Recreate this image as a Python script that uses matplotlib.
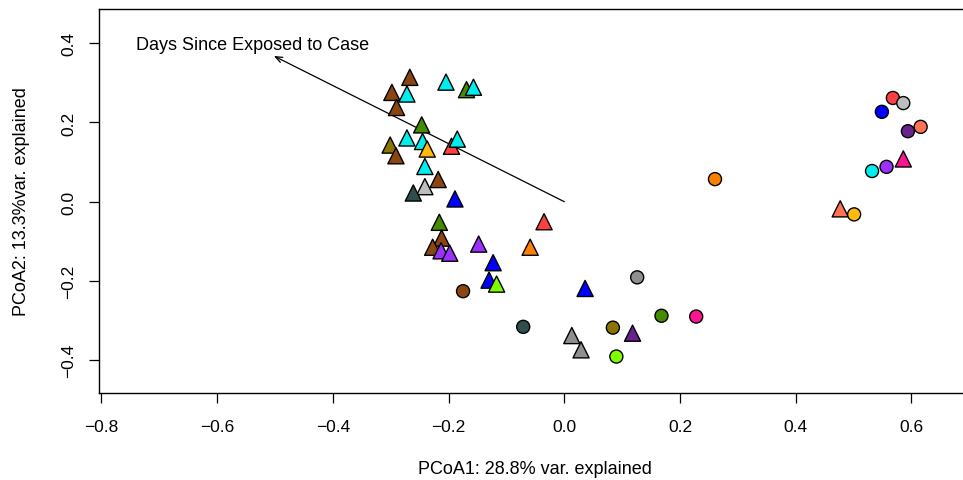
import matplotlib
matplotlib.use("Agg")
import matplotlib.pyplot as plt

plt.rcParams['font.family'] = ['Liberation Sans', 'DejaVu Sans']

# Triangles (one group)
tri_x = [-0.267, -0.2045, -0.169, -0.157, -0.298, -0.272, -0.290, -0.2465, -0.272, -0.245,
         -0.237, -0.195, -0.185, -0.301, -0.291, -0.241, -0.218, -0.241, -0.261, -0.189,
         -0.216, -0.212, -0.2275, -0.213, -0.198, -0.148, -0.123, -0.130, -0.117, -0.035,
         -0.059, 0.036, 0.013, 0.029, 0.118, 0.586, 0.477]
tri_y = [0.314, 0.302, 0.283, 0.289, 0.276, 0.272, 0.238, 0.194, 0.161, 0.152,
         0.133, 0.140, 0.158, 0.143, 0.116, 0.089, 0.056, 0.038, 0.022, 0.007,
         -0.052, -0.092, -0.115, -0.124, -0.130, -0.107, -0.154, -0.198, -0.208, -0.0505,
         -0.115, -0.219, -0.338, -0.374, -0.332, 0.108, -0.018]
tri_colors = ['#8B4513', '#00EEEE', '#458B00', '#00EEEE', '#8B4513', '#00EEEE', '#8B4513', '#458B00', '#00EEEE', '#00EEEE',
              '#FFB90F', '#FF4040', '#00EEEE', '#8B7500', '#8B4513', '#00EEEE', '#8B4513', '#BEBEBE', '#2F4F4F', '#0000FF',
              '#458B00', '#8B4513', '#8B4513', '#9B30FF', '#9B30FF', '#9B30FF', '#0000FF', '#0000FF', '#7FFF00', '#FF4040',
              '#FF7F00', '#0000FF', '#8F8F8F', '#8F8F8F', '#68228B', '#FF1493', '#FF7256']

# Circles (other group)
circ_x = [-0.175, 0.126, -0.071, 0.084, 0.090, 0.168, 0.228, 0.2605,
          0.568, 0.586, 0.549, 0.594, 0.616, 0.557, 0.532, 0.501]
circ_y = [-0.226, -0.191, -0.316, -0.318, -0.391, -0.288, -0.290, 0.057,
          0.262, 0.249, 0.227, 0.178, 0.189, 0.088, 0.0775, -0.032]
circ_colors = ['#8B4513', '#8F8F8F', '#2F4F4F', '#8B7500', '#7FFF00', '#458B00', '#FF1493', '#FF7F00',
               '#FF4040', '#BEBEBE', '#0000FF', '#68228B', '#FF7256', '#9B30FF', '#00EEEE', '#FFB90F']

x_ticks = [-0.8, -0.6, -0.4, -0.2, 0.0, 0.2, 0.4, 0.6]
y_ticks = [-0.4, -0.2, 0.0, 0.2, 0.4]

arrow_start = (0.0, 0.0)
arrow_end = (-0.502, 0.368)
arrow_label = "Days Since Exposed to Case"

W, H = 963, 481
fig = plt.figure(figsize=(W / 100, H / 100), dpi=100)
ax = fig.add_axes([99 / W, (H - 394.3) / H, (966 - 99) / W, (394.3 - 10) / H])

ax.scatter(tri_x, tri_y, marker='^', s=135, c=tri_colors, edgecolors='black', linewidths=1.0, zorder=3)
ax.scatter(circ_x, circ_y, marker='o', s=88, c=circ_colors, edgecolors='black', linewidths=1.0, zorder=3)

ax.annotate('', xy=arrow_end, xytext=arrow_start,
            arrowprops=dict(arrowstyle='->,head_length=0.5,head_width=0.2', color='black', lw=0.9,
                            shrinkA=0, shrinkB=0), zorder=2)
ax.text(-0.538, 0.396, arrow_label, ha='center', va='center', fontsize=13)

ax.set_xlim(-0.8043, 0.6944)
ax.set_ylim(-0.4838, 0.4866)
ax.set_xticks(x_ticks)
ax.set_yticks(y_ticks)
ax.set_xticklabels([f"{v:.1f}".replace('-', '\u2212') for v in x_ticks])
ax.set_yticklabels([f"{v:.1f}".replace('-', '\u2212') for v in y_ticks], rotation=90, va='center')
ax.tick_params(axis='x', pad=11)
ax.tick_params(axis='y', pad=9)
ax.tick_params(axis='both', direction='out', length=7.5, width=0.9, labelsize=12.5)
for s in ['left', 'bottom', 'top']:
    ax.spines[s].set_linewidth(1.0)
ax.spines['right'].set_visible(False)

fig.text(535 / W, 1 - 470 / H, "PCoA1: 28.8% var. explained", ha='center', va='center', fontsize=13)
fig.text(22 / W, 1 - 202 / H, "PCoA2: 13.3%var. explained", ha='center', va='center', rotation=90, fontsize=13)

fig.savefig('out.png', dpi=100)
